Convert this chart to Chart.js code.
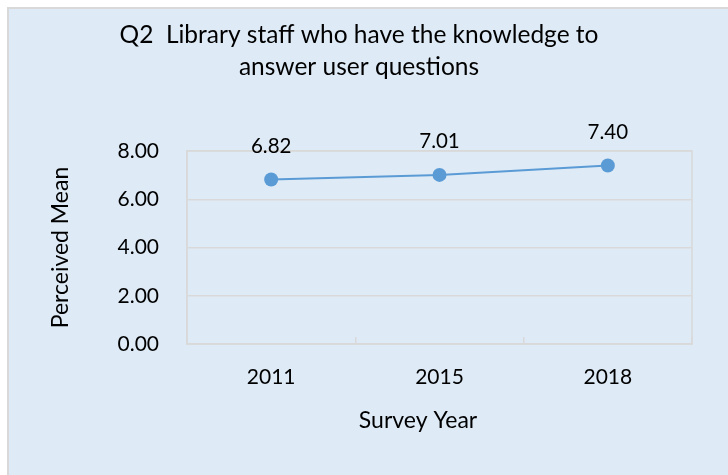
<!DOCTYPE html>
<html>
<head>
<meta charset="utf-8">
<title>Q2 Library staff</title>
<script src="https://cdn.jsdelivr.net/npm/chart.js@4.4.1/dist/chart.umd.min.js"></script>
<style>
  html, body { margin: 0; padding: 0; background: #ffffff; }
  #wrap { width: 728px; height: 475px; position: relative; }
</style>
</head>
<body>
<div id="wrap"><canvas id="grafico" width="728" height="475"></canvas></div>
<script>
// datos del grafico
const anios = ['2011', '2015', '2018'];
const medias = [6.82, 7.01, 7.40];
const tituloLineas = ['Q2  Library staff who have the knowledge to', 'answer user questions'];
const tituloEjeY = 'Perceived Mean';
const tituloEjeX = 'Survey Year';

const fuente = 'Lato, "Open Sans", sans-serif';
const azul = '#5b9bd5';
const gris = '#d9d9d9';

// fondo, borde del grafico y textos sueltos
const decoracion = {
  id: 'decoracion',
  beforeDraw(chart) {
    const ctx = chart.ctx;
    ctx.save();
    ctx.fillStyle = '#ffffff';
    ctx.fillRect(0, 0, chart.width, chart.height);
    ctx.fillStyle = '#deebf7';
    ctx.fillRect(8, 8, chart.width - 8, chart.height - 8);
    ctx.fillStyle = gris;
    ctx.fillRect(7, 7, 2, chart.height - 7);
    ctx.fillRect(7, 7, chart.width - 7, 2);
    ctx.restore();
  },
  beforeDatasetsDraw(chart) {
    // borde del area de trazado
    const ctx = chart.ctx;
    const area = chart.chartArea;
    ctx.save();
    ctx.strokeStyle = gris;
    ctx.lineWidth = 1.5;
    ctx.strokeRect(area.left, area.top, area.right - area.left, area.bottom - area.top);
    ctx.restore();
  },
  afterDraw(chart) {
    const ctx = chart.ctx;
    const area = chart.chartArea;
    ctx.save();
    ctx.fillStyle = '#000000';
    ctx.textAlign = 'center';
    ctx.textBaseline = 'alphabetic';
    ctx.font = '24.5px ' + fuente;
    ctx.fillText(tituloLineas[0], 359, 43);
    ctx.fillText(tituloLineas[1], 359, 75);

    ctx.font = '23px ' + fuente;
    ctx.textBaseline = 'middle';
    ctx.fillText(tituloEjeX, 418, 421);

    ctx.translate(61, (area.top + area.bottom) / 2);
    ctx.rotate(-Math.PI / 2);
    ctx.fillText(tituloEjeY, 0, 0);
    ctx.restore();
  }
};

// etiquetas de valor encima de cada punto
const etiquetas = {
  id: 'etiquetas',
  afterDatasetsDraw(chart) {
    const ctx = chart.ctx;
    const meta = chart.getDatasetMeta(0);
    ctx.save();
    ctx.font = '20.5px ' + fuente;
    ctx.fillStyle = '#000000';
    ctx.textAlign = 'center';
    ctx.textBaseline = 'middle';
    meta.data.forEach((punto, i) => {
      ctx.fillText(medias[i].toFixed(2), punto.x, punto.y - 33);
    });
    ctx.restore();
  }
};

new Chart(document.getElementById('grafico'), {
  type: 'line',
  data: {
    labels: anios,
    datasets: [{
      label: 'Perceived Mean',
      data: medias,
      borderColor: azul,
      backgroundColor: azul,
      borderWidth: 2,
      pointRadius: 7,
      pointHoverRadius: 7,
      pointBorderWidth: 0,
      pointBackgroundColor: azul,
      tension: 0
    }]
  },
  options: {
    responsive: false,
    animation: false,
    devicePixelRatio: 1,
    layout: { padding: { top: 151, right: 36, bottom: 0, left: 0 } },
    plugins: {
      legend: { display: false },
      title: { display: false },
      tooltip: { enabled: false }
    },
    scales: {
      x: {
        offset: true,
        afterFit(scale) { scale.height = 131; },
        grid: {
          offset: true,
          drawOnChartArea: false,
          drawTicks: true,
          tickLength: -7,
          color: gris,
          lineWidth: 1.5
        },
        border: { color: gris, width: 1.5 },
        ticks: {
          padding: 28,
          color: '#000000',
          font: { family: fuente, size: 21 }
        }
      },
      y: {
        min: 0,
        max: 8,
        afterFit(scale) { scale.width = 187; },
        grid: { color: gris, lineWidth: 1.5, drawTicks: false },
        border: { color: gris, width: 1.5 },
        ticks: {
          stepSize: 2,
          padding: 28,
          color: '#000000',
          font: { family: fuente, size: 21 },
          callback: v => v.toFixed(2)
        }
      }
    }
  },
  plugins: [decoracion, etiquetas]
});
</script>
</body>
</html>
